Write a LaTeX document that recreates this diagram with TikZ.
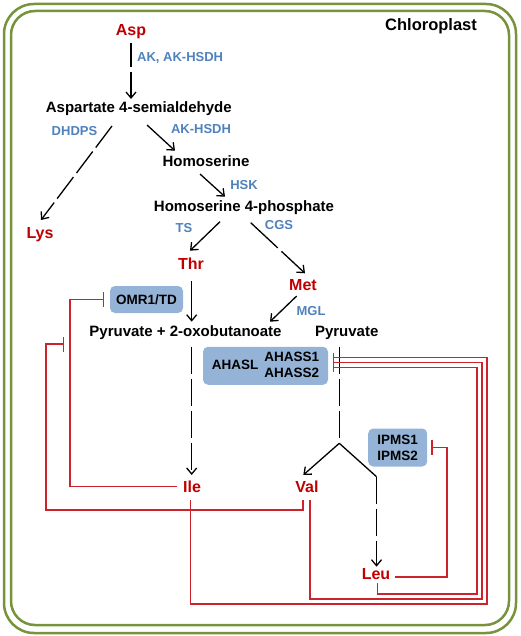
\documentclass[tikz,border=0pt]{standalone}
\usepackage{fontspec}
\setmainfont{Liberation Sans}
\usetikzlibrary{arrows.meta,calc}

\definecolor{aared}{RGB}{192,0,0}
\definecolor{inhred}{RGB}{205,35,45}
\definecolor{enzblue}{RGB}{79,129,189}
\definecolor{boxblue}{RGB}{149,179,215}
\definecolor{olive}{RGB}{119,147,60}

\begin{document}
\begin{tikzpicture}[x=1pt,y=-1pt,
	cpd/.style={inner sep=1pt,font=\bfseries\fontsize{15}{18}\selectfont,text height=11pt,text depth=3pt},
	aa/.style={inner sep=1pt,text=aared,font=\bfseries\fontsize{16}{19}\selectfont,text height=11.5pt,text depth=3.5pt},
	enz/.style={inner sep=1pt,text=enzblue,font=\bfseries\fontsize{13}{15}\selectfont,text height=9.5pt,text depth=2.5pt},
	box/.style={fill=boxblue,rounded corners=5pt,inner sep=0pt,align=center,font=\bfseries\fontsize{13.5}{16}\selectfont},
	rxn/.style={line width=1.3pt,-{Straight Barb[length=6pt,width=10pt]}},
	ldash/.style={dash pattern=on 27pt off 5pt},
	inh/.style={draw=inhred,line width=1.1pt,-{Bar[width=15pt]}},
	wall/.style={draw=olive,line width=2.5pt}]
	\useasboundingbox (0,0) rectangle (520,636);
	\draw[wall,rounded corners=30pt] (4,4) rectangle (516,633);
	\draw[wall,rounded corners=24pt] (11,11) rectangle (509,625);
	\node[font=\bfseries\fontsize{16.5}{19}\selectfont] (chl) at (431,26) {Chloroplast};

	% compounds and amino acids
	\node[aa] (asp) at (131,31.7) {Asp};
	\node[cpd] (asd) at (138.8,108.3) {Aspartate 4-semialdehyde};
	\node[cpd] (hse) at (206,162.3) {Homoserine};
	\node[cpd] (hsp) at (244,207.7) {Homoserine 4-phosphate};
	\node[aa] (lys) at (40,234.3) {Lys};
	\node[aa] (thr) at (191,265) {Thr};
	\node[aa] (met) at (303,286) {Met};
	\node[cpd] (pob) at (185.5,332.3) {Pyruvate + 2-oxobutanoate};
	\node[cpd] (pyr) at (346.7,332.3) {Pyruvate};
	\node[aa] (ile) at (192,488.3) {Ile};
	\node[aa] (val) at (307,488) {Val};
	\node[aa] (leu) at (376,575) {Leu};

	% enzymes
	\node[enz,anchor=west] (akh) at (136,57.7) {AK, AK-HSDH};
	\node[enz] (dhdps) at (74.5,131.7) {DHDPS};
	\node[enz] (akhsdh) at (201,130) {AK-HSDH};
	\node[enz] (hsk) at (244,185.7) {HSK};
	\node[enz] (ts) at (184,229) {TS};
	\node[enz] (cgs) at (279,225.7) {CGS};
	\node[enz] (mgl) at (311,311.7) {MGL};
	\node[box,minimum width=73pt,minimum height=27pt] (omr) at (146.5,299.5) {OMR1/TD};
	\node[box,minimum width=125pt,minimum height=38pt] (ahas) at (265.5,365.8)
		{AHASL\hspace{6pt}\begin{tabular}{@{}c@{}}AHASS1\\AHASS2\end{tabular}};
	\node[box,minimum width=59pt,minimum height=38pt] (ipms) at (397.7,447.5) {IPMS1\\IPMS2};

	% pathway
	\draw[rxn,dash pattern=on 24pt off 5pt on 60pt off 1pt] ($(asp)+(0,11.3)$) -- ($(asd)+(-7.8,-9.3)$);
	\draw[rxn,ldash] ($(asd)+(-26.8,17.7)$) -- ($(lys)+(1,-14.3)$);
	\draw[rxn] ($(asd)+(8.2,16.7)$) -- ($(hse)+(-31,-11.6)$);
	\draw[rxn] ($(hse)+(-6,11.7)$) -- ($(hsp)+(-19,-11)$);
	\draw[rxn] ($(hsp)+(-24,14)$) -- ($(thr)+(-1,-14.3)$);
	\draw[rxn,dash pattern=on 37pt off 5pt on 60pt off 1pt] ($(hsp)+(6.7,15)$) -- ($(met)+(2,-12.7)$);
	\draw[rxn] ($(met)+(-6.3,10)$) -- ($(pob)+(84.5,-10.6)$);
	\draw[rxn] ($(thr)+(0.7,16)$) -- ($(pob)+(6.2,-10.6)$);
	\draw[rxn,ldash] ($(pob)+(6.2,14.4)$) -- ($(ile)+(-0.3,-13.3)$);
	\coordinate (br) at (339.3,443.3);
	\coordinate (br2) at (376.5,476.7);
	\draw[line width=1.3pt,ldash] ($(pyr)+(-7.4,14.4)$) -- (br);
	\draw[rxn] (br) -- ($(val)+(-3.7,-13)$);
	\draw[line width=1.3pt] (br) -- (br2);
	\draw[rxn,ldash] (br2) -- ($(leu)+(0.5,-8.3)$);

	% feedback
	\coordinate (valbar) at (64,344);
	\draw[inh] ($(ile)+(-15,-1.6)$) -| (70,299.5) -- ($(omr.west)+(-6,0)$);
	\draw[inh] ($(val)+(-4,12)$) -- ++(0,10) -| (46,344) -- (valbar);
	\draw[inh,-{Bar[width=9pt]}] ($(ile)+(-1.3,12)$) |- (487,604) |- ($(ahas.east)+(4.7,-8.5)$);
	\draw[inh,-{Bar[width=9pt]}] ($(val)+(3,12)$) |- (482,599) |- ($(ahas.east)+(4.7,-3.1)$);
	\draw[inh,-{Bar[width=9pt]}] ($(leu)+(1.7,8)$) |- (477,594) |- ($(ahas.east)+(4.7,1.9)$);
	\draw[inh] ($(leu)+(19,2)$) -| (447,447.5) -- ($(ipms.east)+(4,0)$);
\end{tikzpicture}
\end{document}
